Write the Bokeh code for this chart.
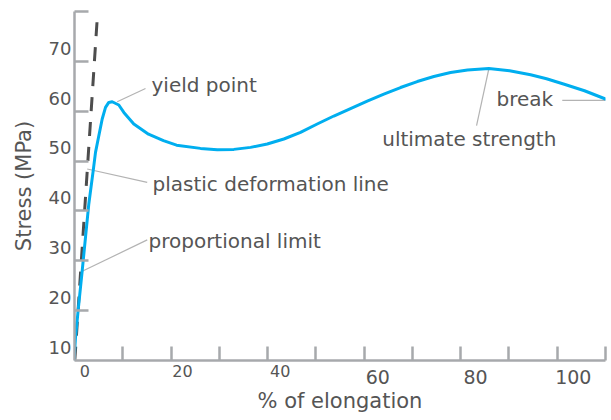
from bokeh.plotting import figure
from bokeh.models import Range1d, FixedTicker, LinearAxis
from bokeh.core.properties import value
from bokeh.embed import file_html
from bokeh.resources import INLINE

# ---- data ----
elong = [-2.2, -1.9, -1.23, -0.53, 0.14, 0.82, 1.72, 2.19, 2.87, 3.56, 4.24, 4.91, 5.61,
         6.96, 7.99, 10.03, 13.04, 16.1, 18.78, 23.69, 27.11, 30.51, 33.93, 37.35, 40.75,
         44.16, 47.58, 50.98, 54.4, 57.82, 61.22, 64.64, 68.06, 71.46, 74.88, 78.36, 82.72,
         86.96, 91.26, 94.53, 98.0, 102.3, 106.6]
stress = [7.46, 12.12, 18.8, 25.46, 32.12, 38.8, 45.46, 49.12, 52.46, 55.8, 58.12, 59.12, 59.26,
          58.6, 57.12, 54.8, 52.76, 51.46, 50.56, 49.92, 49.66, 49.72, 50.12, 50.8, 51.8,
          53.12, 54.8, 56.4, 57.9, 59.4, 60.8, 62.1, 63.3, 64.3, 65.1, 65.6, 65.9,
          65.46, 64.66, 63.86, 62.8, 61.46, 59.8]
elastic_x = [-2.05, 2.54]
elastic_y = [7.46, 75.86]

x_labels_small = [0, 20, 40]
x_labels_large = [60, 80, 100]
y_labels = [10, 20, 30, 40, 50, 60, 70]

notes = ["yield point", "plastic deformation line", "proportional limit",
         "ultimate strength", "break"]
note_x = [13.66, 13.86, 13.04, 60.89, 84.3]
note_y = [62.66, 42.86, 31.46, 51.8, 59.8]
lead_x0 = [6.63, 0.49, -0.53, 82.72, 97.75]
lead_y0 = [59.26, 45.8, 25.32, 65.86, 59.52]
lead_x1 = [12.43, 12.78, 12.78, 80.2, 106.6]
lead_y1 = [61.92, 43.12, 31.6, 54.46, 59.52]

X0, X1 = -2.11, 106.6
Y0, Y1 = 7.46, 77.32

FONT = "DejaVu Sans"
AXIS_GREY = "#a7a9ac"
TEXT_GREY = "#555555"

p = figure(width=611, height=420, output_backend="svg", toolbar_location=None,
           x_range=Range1d(X0, X1), y_range=Range1d(Y0, Y1),
           min_border_left=74, min_border_right=6, min_border_top=11, min_border_bottom=60)
p.outline_line_color = None
p.grid.visible = False

x_minor = [X0 + k * (X1 - X0) / 11 for k in range(1, 12)]
x_minor[-1] -= 0.01
y_minor = [Y0 + k * (Y1 - Y0) / 7 for k in range(1, 8)]
y_minor[-1] -= 0.01

# x axis A: tick marks + small labels
xa = p.xaxis[0]
xa.ticker = FixedTicker(ticks=x_labels_small, minor_ticks=x_minor)
xa.major_tick_in = 0
xa.major_tick_out = 0
xa.minor_tick_in = 14
xa.minor_tick_out = 0
xa.minor_tick_line_color = AXIS_GREY
xa.minor_tick_line_width = 2.5
xa.axis_line_color = AXIS_GREY
xa.axis_line_width = 2.5
xa.major_label_text_font = FONT
xa.major_label_text_font_size = "16px"
xa.major_label_text_color = TEXT_GREY
xa.major_label_standoff = 4

# x axis B: larger labels + title
xb = LinearAxis(ticker=FixedTicker(ticks=x_labels_large, minor_ticks=[]))
xb.axis_line_color = None
xb.major_tick_line_color = None
xb.minor_tick_line_color = None
xb.major_tick_in = 0
xb.major_tick_out = 0
xb.major_label_text_font = FONT
xb.major_label_text_font_size = "19px"
xb.major_label_text_color = TEXT_GREY
xb.major_label_standoff = -10
xb.axis_label = "% of elongation"
xb.axis_label_text_font = FONT
xb.axis_label_text_font_size = "21px"
xb.axis_label_text_font_style = "normal"
xb.axis_label_text_color = TEXT_GREY
xb.axis_label_standoff = 2
p.add_layout(xb, "below")

ya = p.yaxis[0]
ya.ticker = FixedTicker(ticks=y_labels, minor_ticks=y_minor)
ya.major_tick_in = 0
ya.major_tick_out = 0
ya.minor_tick_in = 14
ya.minor_tick_out = 0
ya.minor_tick_line_color = AXIS_GREY
ya.minor_tick_line_width = 2.5
ya.axis_line_color = AXIS_GREY
ya.axis_line_width = 2.5
ya.major_label_text_font = FONT
ya.major_label_text_font_size = "18px"
ya.major_label_text_color = TEXT_GREY
ya.major_label_standoff = 3
ya.axis_label = "Stress (MPa)"
ya.axis_label_text_font = FONT
ya.axis_label_text_font_size = "21px"
ya.axis_label_text_font_style = "normal"
ya.axis_label_text_color = TEXT_GREY
ya.axis_label_standoff = 10

# leader lines
p.segment(x0=lead_x0, y0=lead_y0, x1=lead_x1, y1=lead_y1, line_color="#b3b3b3", line_width=1.2)

# elastic (dashed) line
p.line(elastic_x, elastic_y, line_color="#4d4d4d", line_width=3, line_dash="14 11")

# stress-strain curve
p.line(elong, stress, line_color="#00aeef", line_width=3, line_join="round", line_cap="round")

p.text(x=note_x, y=note_y, text=notes, text_font=value(FONT), text_font_size=value("20px"),
       text_color=TEXT_GREY, text_align="left", text_baseline="middle")

open("out.html", "w").write(file_html(p, INLINE))
